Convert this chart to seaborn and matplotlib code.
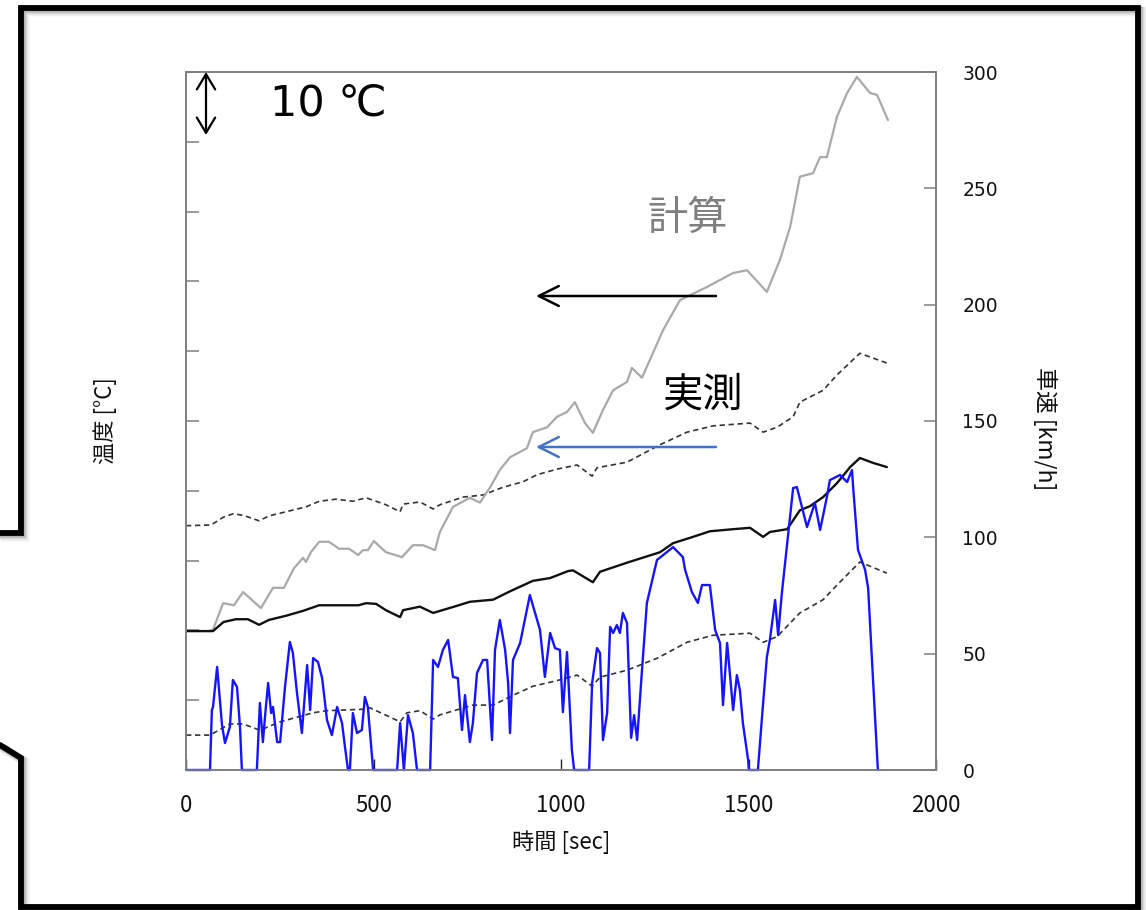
import matplotlib
matplotlib.use("Agg")
import matplotlib.pyplot as plt
import seaborn as sns
import pandas as pd

sns.set_style("ticks")
plt.rcParams["font.family"] = ["Noto Sans CJK JP", "DejaVu Sans"]

# ---- measured temperature, middle sensor (solid black) ----
t_meas_mid = [0, 72, 100, 133, 165, 195, 221, 267, 312, 355, 400, 460, 480, 507, 533,
              571, 579, 624, 659, 715, 757, 819, 864, 925, 971, 1019, 1032, 1085, 1104,
              1176, 1264, 1299, 1352, 1397, 1459, 1504, 1539, 1557, 1603, 1637, 1664,
              1699, 1736, 1771, 1797, 1832, 1869]
temp_meas_mid = [19.9, 19.9, 21.2, 21.6, 21.6, 20.8, 21.5, 22.1, 22.8, 23.6, 23.6, 23.6,
                 23.9, 23.8, 22.9, 21.9, 22.9, 23.4, 22.5, 23.4, 24.1, 24.4, 25.6, 27.1,
                 27.5, 28.5, 28.6, 26.9, 28.4, 29.7, 31.2, 32.5, 33.4, 34.2, 34.5, 34.7,
                 33.4, 34.1, 34.5, 37.2, 37.8, 39.1, 41.1, 43.4, 44.7, 44.0, 43.4]

# ---- measured temperature, upper sensor (dashed) ----
t_meas_upper = [0, 67, 99, 125, 152, 195, 221, 267, 320, 355, 400, 445, 480, 507, 533,
                571, 579, 624, 659, 677, 739, 792, 845, 899, 936, 989, 1043, 1083, 1096,
                1176, 1264, 1336, 1405, 1504, 1539, 1576, 1619, 1637, 1699, 1736, 1797,
                1869]
temp_meas_upper = [35.0, 35.1, 36.2, 36.7, 36.5, 35.7, 36.4, 37.0, 37.7, 38.5, 38.8,
                   38.5, 39.0, 38.5, 38.0, 37.0, 38.1, 38.4, 37.4, 38.0, 39.1, 39.4,
                   40.5, 41.3, 42.3, 43.1, 43.7, 42.1, 43.3, 44.1, 46.6, 48.4, 49.3,
                   49.7, 48.4, 49.1, 50.6, 52.7, 54.4, 56.6, 59.7, 58.3]

# ---- measured temperature, lower sensor (dashed) ----
t_meas_lower = [0, 64, 117, 152, 197, 251, 339, 376, 472, 491, 571, 589, 624, 659, 677,
                765, 819, 872, 925, 989, 1043, 1083, 1104, 1176, 1256, 1336, 1405, 1504,
                1539, 1576, 1637, 1699, 1736, 1797, 1869]
temp_meas_lower = [5.0, 5.0, 6.6, 6.6, 5.7, 6.9, 8.2, 8.5, 8.7, 8.9, 6.9, 8.2, 8.5, 7.3,
                   7.9, 9.3, 9.3, 10.7, 12.0, 12.8, 13.6, 12.0, 13.3, 14.3, 16.0, 18.3,
                   19.3, 19.6, 18.3, 19.1, 22.5, 24.4, 26.5, 29.8, 28.2]

# ---- calculated temperature (gray) ----
t_calc = [60, 72, 99, 128, 152, 200, 232, 261, 288, 312, 320, 333, 355, 381, 408, 435,
          459, 472, 485, 501, 533, 576, 605, 632, 664, 677, 712, 757, 784, 811, 837, 864,
          909, 925, 963, 989, 1016, 1037, 1064, 1085, 1112, 1139, 1176, 1189, 1216,
          1272, 1317, 1389, 1459, 1496, 1549, 1584, 1611, 1637, 1672, 1691, 1709, 1736,
          1763, 1789, 1824, 1843, 1872]
temp_calc = [19.9, 20.1, 23.9, 23.6, 25.5, 23.2, 26.1, 26.1, 28.9, 30.4, 29.8, 31.2,
             32.7, 32.7, 31.7, 31.7, 30.8, 31.5, 31.5, 32.8, 31.2, 30.5, 32.2, 32.2,
             31.5, 34.1, 37.7, 39.0, 38.3, 40.5, 43.0, 44.8, 46.1, 48.4, 49.1, 50.6,
             51.3, 52.7, 49.7, 48.3, 51.6, 54.4, 55.6, 57.6, 56.2, 63.0, 67.3, 69.2,
             71.2, 71.6, 68.5, 73.1, 77.8, 85.0, 85.5, 87.8, 87.8, 93.6, 97.0, 99.3,
             97.0, 96.7, 93.1]

# ---- vehicle speed (blue, right axis) ----
t_speed = [0, 64, 69, 72, 83, 96, 104, 117, 125, 136, 144, 149, 189, 197, 205, 213, 219,
           227, 232, 243, 251, 264, 277, 285, 296, 309, 323, 331, 339, 352, 363, 376,
           389, 403, 416, 424, 432, 437, 445, 456, 469, 477, 485, 499, 563, 571, 581,
           592, 605, 616, 651, 659, 672, 685, 699, 712, 725, 736, 744, 757, 765, 776,
           792, 803, 816, 824, 837, 851, 859, 864, 872, 891, 917, 931, 944, 957, 971,
           984, 997, 1005, 1016, 1029, 1035, 1075, 1083, 1096, 1104, 1112, 1123, 1131,
           1139, 1149, 1157, 1165, 1176, 1187, 1195, 1203, 1216, 1229, 1256, 1299, 1325,
           1331, 1349, 1365, 1376, 1397, 1411, 1424, 1432, 1443, 1459, 1469, 1477, 1485,
           1499, 1501, 1525, 1539, 1549, 1557, 1571, 1579, 1589, 1605, 1619, 1629, 1643,
           1656, 1669, 1677, 1691, 1709, 1717, 1744, 1763, 1776, 1779, 1792, 1811, 1819,
           1845]
speed = [0, 0, 25.8, 27.1, 44.3, 19.3, 11.6, 18.5, 38.7, 35.7, 18.5, 0, 0, 28.8, 12.0,
         27.1, 37.4, 24.5, 27.1, 12.0, 12.0, 35.7, 55.0, 50.3, 33.1, 15.9, 45.1, 25.8,
         48.1, 46.4, 39.5, 21.5, 15.0, 27.1, 20.2, 9.9, 0, 0, 24.5, 15.9, 17.2, 31.4,
         27.1, 0, 0, 20.2, 0, 23.6, 15.9, 0, 0, 47.3, 44.3, 51.6, 55.9, 40.0, 39.5, 17.2,
         32.2, 12.0, 20.2, 41.7, 47.3, 47.3, 12.9, 51.6, 64.5, 51.6, 37.4, 15.9, 47.3,
         54.6, 75.2, 67.5, 60.2, 40.0, 58.9, 52.4, 51.6, 24.9, 50.7, 8.6, 0, 0, 37.4,
         52.4, 50.3, 12.9, 24.5, 61.5, 58.9, 62.3, 58.9, 67.5, 63.2, 13.8, 23.6, 12.9,
         43.0, 71.8, 90.3, 95.8, 91.5, 86.0, 76.5, 71.8, 79.5, 79.5, 60.2, 54.6, 27.9,
         54.6, 25.8, 40.8, 34.4, 20.2, 4.3, 0, 0, 28.8, 48.6, 55.9, 73.1, 58.0, 76.1,
         100.1, 121.2, 121.6, 112.6, 104.4, 110.9, 114.8, 103.2, 117.3, 124.6, 126.8,
         123.8, 128.9, 121.6, 94.6, 86.0, 78.2, 0]

x_ticks = [0, 500, 1000, 1500, 2000]
speed_ticks = [0, 50, 100, 150, 200, 250, 300]
temp_ticks = list(range(0, 101, 10))

W, H = 1146, 910
fig = plt.figure(figsize=(W / 100, H / 100), dpi=100)


def fx(x):
    return x / W


def fy(y):
    return 1 - y / H


ax = fig.add_axes([fx(186), fy(770), fx(936) - fx(186), fy(72) - fy(770)])
ax2 = ax.twinx()

dash = (0, (3.2, 2.2))
sns.lineplot(x=t_meas_lower, y=temp_meas_lower, ax=ax, color="#333333", linewidth=1.2,
             linestyle=dash, estimator=None, sort=False)
sns.lineplot(x=t_meas_upper, y=temp_meas_upper, ax=ax, color="#333333", linewidth=1.2,
             linestyle=dash, estimator=None, sort=False)
sns.lineplot(x=t_calc, y=temp_calc, ax=ax, color="#a9a9a9", linewidth=1.6,
             estimator=None, sort=False)
sns.lineplot(x=t_meas_mid, y=temp_meas_mid, ax=ax, color="#111111", linewidth=1.7,
             estimator=None, sort=False)
sns.lineplot(x=t_speed, y=speed, ax=ax2, color="#1414ff", linewidth=1.7,
             estimator=None, sort=False, clip_on=False)

ax.set_xlim(0, 2000)
ax.set_ylim(0, 100)
ax.set_xticks(x_ticks)
ax.set_yticks(temp_ticks)
ax.set_xlabel("")
ax.set_ylabel("")
ax.tick_params(axis="y", direction="in", length=9, width=1.1, color="#7f7f7f",
               labelleft=False)
ax.tick_params(axis="x", direction="in", length=8, width=1.0, color="#222222",
               labelsize=16, pad=17, labelcolor="#111111")
for lab in ax.get_xticklabels():
    lab.set_fontfamily(["Noto Sans CJK JP", "DejaVu Sans"])

ax2.set_ylim(0, 300)
ax2.set_yticks(speed_ticks)
ax2.set_ylabel("")
ax2.tick_params(axis="y", direction="in", length=9, width=1.1, color="#7f7f7f",
                labelsize=13.5, pad=19, labelcolor="#111111")
for lab in ax2.get_yticklabels():
    lab.set_fontfamily(["DejaVu Sans"])

for a in (ax, ax2):
    for sp in a.spines.values():
        sp.set_color("#7f7f7f")
        sp.set_linewidth(1.2)

# axis titles
fig.text(fx(561), fy(842), "時間 [sec]", ha="center", va="center", fontsize=16,
         color="#111111")
fig.text(fx(105), fy(421), "温度 [°C]", ha="center", va="center", fontsize=16,
         rotation=90, color="#111111")
fig.text(fx(1045), fy(429), "車速 [km/h]", ha="center", va="center", fontsize=16.5,
         rotation=270, color="#111111")

# scale marker and annotations
fig.text(fx(270), fy(103), "10 ℃", ha="left", va="center", fontsize=31,
         family=["DejaVu Sans", "Noto Sans CJK JP"], color="black")
ax.annotate("", xy=(fx(206), fy(72)), xytext=(fx(206), fy(135)),
            xycoords="figure fraction", textcoords="figure fraction",
            arrowprops=dict(arrowstyle="<->,head_length=0.5,head_width=0.3",
                            lw=1.6, color="black", mutation_scale=22,
                            shrinkA=0, shrinkB=0))
fig.text(fx(688), fy(218), "計算", ha="center", va="center", fontsize=29,
         color="#7f7f7f")
fig.text(fx(703), fy(395), "実測", ha="center", va="center", fontsize=29,
         color="black")
ax.annotate("", xy=(fx(536), fy(296)), xytext=(fx(716), fy(296)),
            xycoords="figure fraction", textcoords="figure fraction",
            arrowprops=dict(arrowstyle="->,head_length=0.6,head_width=0.3",
                            lw=1.8, color="black", mutation_scale=24,
                            shrinkA=0, shrinkB=0))
ax.annotate("", xy=(fx(536), fy(447)), xytext=(fx(716), fy(447)),
            xycoords="figure fraction", textcoords="figure fraction",
            arrowprops=dict(arrowstyle="->,head_length=0.6,head_width=0.3",
                            lw=1.8, color="#4472c4", mutation_scale=24,
                            shrinkA=0, shrinkB=0))

# callout frame around the chart
frame = fig.add_axes([0, 0, 1, 1], facecolor="none")
frame.set_xlim(0, W)
frame.set_ylim(H, 0)
frame.axis("off")
px = [0, 21, 21, 1138, 1138, 21, 21, 0]
py = [533, 533, 8, 8, 907, 907, 758, 745]
for off, alpha, lw in ((3.5, 0.06, 7), (2.5, 0.10, 5.5), (1.5, 0.16, 4.5)):
    frame.plot([p + off for p in px], [p + off for p in py], color="black",
               alpha=alpha, lw=lw, solid_joinstyle="miter", clip_on=False)
frame.plot(px, py, color="black", lw=4.2, solid_joinstyle="miter", clip_on=False)

fig.savefig("out.png", dpi=100)
